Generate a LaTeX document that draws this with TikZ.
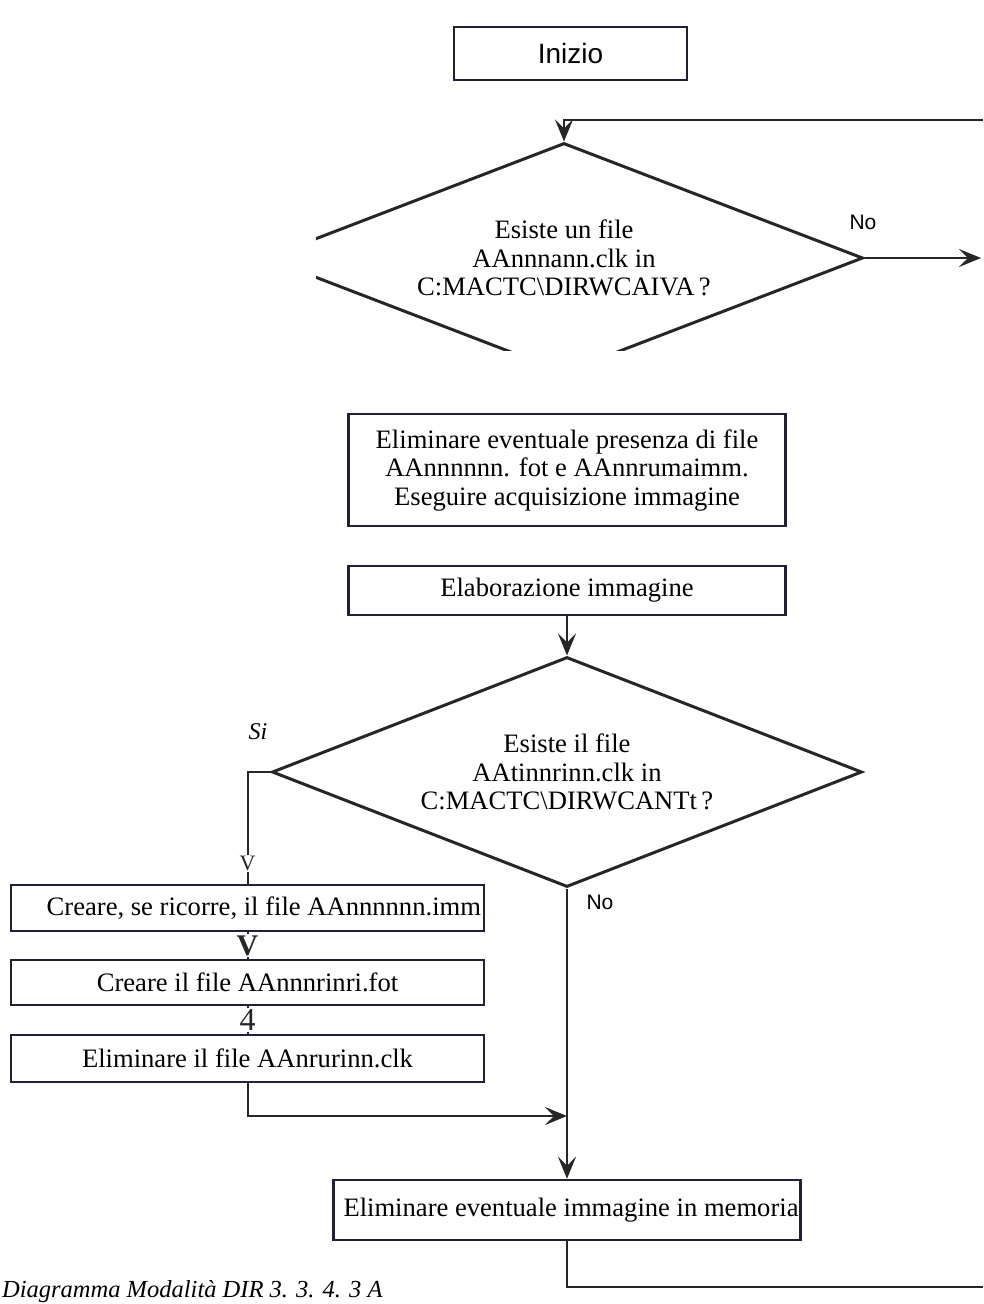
\documentclass[tikz,border=0pt]{standalone}
\usepackage{fontspec}
\setmainfont{Liberation Serif}
\newfontfamily\labelfont{Liberation Sans}
\usetikzlibrary{arrows.meta,positioning,shapes.geometric}
\definecolor{boxnavy}{RGB}{32,32,58}
\definecolor{inkgray}{RGB}{38,38,38}
\newcommand{\flowsize}{\fontsize{26.6}{28.5}\selectfont}

\begin{document}
\begin{tikzpicture}[
      x=1pt, y=-1pt,
      box/.style={draw=boxnavy, line width=2.5pt, inner sep=3pt,
                  align=center, font=\flowsize},
      decision/.style={diamond, draw=inkgray, line width=3pt, inner sep=0pt,
                       aspect=2.6, align=center, font=\flowsize},
      arrow/.style={-{Stealth[length=22pt,width=18pt,inset=9pt]}, line width=2pt, inkgray},
      line/.style={line width=2pt, inkgray},
      glyph/.style={fill=white, inner sep=1pt, font=\flowsize},
      answer/.style={font=\labelfont\fontsize{21}{21}\selectfont}
    ]
    \useasboundingbox (0,0) rectangle (983,1304);

    \node[box, minimum width=233pt, minimum height=53pt,
          font=\labelfont\fontsize{28}{30}\selectfont] (start) at (570.5,53.5) {Inizio};

    % first test, cut off on the left and at the bottom
    \begin{scope}
      \clip (316,0) rectangle (983,350);
      \node[decision, minimum width=598pt, minimum height=230pt] (chk1) at (564,258)
        {Esiste un file\\AAnnnann.clk in\\C:MACTC\textbackslash DIRWCAIVA\,?};
    \end{scope}

    \node[box, minimum width=437pt, minimum height=112pt] (clean) at (567,470)
      {Eliminare eventuale presenza di file\\AAnnnnnn. fot e AAnnrumaimm.\\Eseguire acquisizione immagine};
    \node[box, minimum width=437pt, minimum height=49pt] (elab) at (567,590.5) {Elaborazione immagine};

    \node[decision, minimum width=590pt, minimum height=230pt] (chk2) at (567,772)
      {Esiste il file\\AAtinnrinn.clk in\\C:MACTC\textbackslash DIRWCANTt\,?};

    \node[box, minimum width=473pt, minimum height=46pt, text width=467pt, align=flush right] (mkimm) at (247.5,908)
      {Creare, se ricorre, il file AAnnnnnn.imm};
    \node[box, minimum width=473pt, minimum height=45pt] (mkfot) at (247.5,982.5) {Creare il file AAnnnrinri.fot};
    \node[box, minimum width=473pt, minimum height=47pt] (delclk) at (247.5,1058.5) {Eliminare il file AAnrurinn.clk};

    \node[box, minimum width=467pt, minimum height=60pt, text width=463pt, inner xsep=2pt,
          align=flush right] (delmem) at (567,1210)
      {Eliminare eventuale immagine in memoria};

    % free ends at the right border
    \coordinate (loopin) at (983,120);
    \coordinate (noout) at (981,258);
    \coordinate (merge) at (567,1116);
    \coordinate (loopout) at (983,1287);

    \draw[arrow] (loopin) -- (loopin -| chk1.north) -- (chk1.north);
    \draw[arrow] (chk1.east) -- (noout);
    \draw[arrow] (elab.south) -- (chk2.north);
    \draw[line] (chk2.west) -| node[glyph, pos=0.91, font=\fontsize{22}{22}\selectfont] {V} (mkimm.north);
    \draw[line] (mkimm) -- node[glyph, font=\bfseries\fontsize{30}{30}\selectfont] {V} (mkfot);
    \draw[line] (mkfot) -- node[glyph, font=\fontsize{32}{32}\selectfont] {4} (delclk);
    \draw[arrow] (delclk.south) |- (merge);
    \draw[arrow] (chk2.south) -- (delmem.north);
    \draw[line] (delmem.south) |- (loopout);

    \node[answer] (no1) at (863,222) {No};
    \node[answer] (no2) at (600,902) {No};
    \node[font=\itshape\fontsize{24}{24}\selectfont] (si) at (258,732) {Si};

    \node[anchor=base west, inner sep=0pt, font=\itshape\fontsize{24.5}{25}\selectfont] (caption) at (2,1297)
      {Diagramma Modalità DIR 3. 3. 4. 3 A};
  \end{tikzpicture}
\end{document}
